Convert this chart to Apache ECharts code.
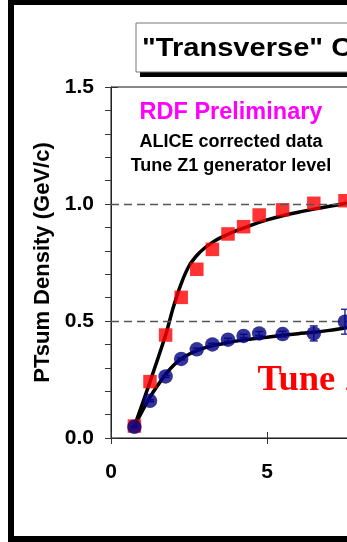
<!DOCTYPE html>
<html>
<head>
<meta charset="utf-8">
<script src="https://cdn.jsdelivr.net/npm/echarts@6/dist/echarts.min.js"></script>
<style>
html,body{margin:0;padding:0;background:#fff;}
#chart{width:347px;height:542px;}
</style>
</head>
<body>
<div id="chart"></div>
<script>
// ---- data ----
const binX = [0.75, 1.25, 1.75, 2.25, 2.75, 3.25, 3.75, 4.25, 4.75, 5.5, 6.5, 7.5];
const redData = [0.051, 0.241, 0.44, 0.601, 0.721, 0.806, 0.872, 0.903, 0.953, 0.975, 1.003, 1.014];
const blueData = [0.048, 0.159, 0.263, 0.338, 0.379, 0.400, 0.420, 0.436, 0.447, 0.444, 0.447, 0.497];
const blueErr = [0.004, 0.004, 0.004, 0.004, 0.005, 0.005, 0.006, 0.007, 0.008, 0.012, 0.032, 0.053];
const curveX = [0.75, 1.25, 1.75, 2.0, 2.25, 2.5, 2.75, 3.0, 3.25, 3.5, 4.0, 4.5, 5.0, 5.5, 6.0, 6.5, 7.0, 7.5, 8.0];
const upperCurve = [0.05, 0.24, 0.44, 0.56, 0.66, 0.735, 0.78, 0.812, 0.836, 0.855, 0.885, 0.91, 0.932, 0.95, 0.965, 0.978, 0.99, 1.002, 1.013];
const lowerCurve = [0.05, 0.175, 0.272, 0.31, 0.338, 0.358, 0.373, 0.385, 0.394, 0.401, 0.414, 0.423, 0.431, 0.439, 0.446, 0.452, 0.46, 0.47, 0.478];
const yTickLabels = ['0.0', '0.5', '1.0', '1.5'];
const xTickLabels = ['0', '5', '10', '15'];
const refLines = [0.5, 1.0];

const SANS = 'Liberation Sans, Arial, sans-serif';
const SERIF = 'Liberation Serif, Times New Roman, serif';

const chart = echarts.init(document.getElementById('chart'), null, {renderer: 'canvas'});

const option = {
  backgroundColor: '#fff',
  animation: false,
  grid: {left: 111, top: 87, width: 468, height: 351, show: true, borderColor: '#111', borderWidth: 1,
    containLabel: false, outerBoundsMode: 'none'},
  xAxis: [
    {
      type: 'value', min: 0, max: 15, interval: 5, position: 'bottom',
      axisLine: {show: true, onZero: false, lineStyle: {color: '#222', width: 1}},
      axisTick: {show: true, length: 6, lineStyle: {color: '#333'}},
      axisLabel: {margin: 24, fontFamily: SANS, fontWeight: 'bold', fontSize: 21, color: '#000',
        formatter: v => xTickLabels[Math.round(v / 5)]},
      splitLine: {show: false}
    },
    {
      type: 'value', min: 0, max: 15, interval: 5, position: 'bottom',
      axisLine: {show: false},
      axisTick: {show: true, inside: true, length: 6, lineStyle: {color: '#333'}},
      axisLabel: {show: false}, splitLine: {show: false}
    }
  ],
  yAxis: [
    {
      type: 'value', min: 0, max: 1.5, interval: 0.5, position: 'left',
      axisLine: {show: true, onZero: false, lineStyle: {color: '#222', width: 1}},
      axisTick: {show: true, length: 6, lineStyle: {color: '#333'}},
      minorTick: {show: true, splitNumber: 5, length: 6, lineStyle: {color: '#333'}},
      axisLabel: {margin: 17, fontFamily: SANS, fontWeight: 'bold', fontSize: 21, color: '#000',
        formatter: v => yTickLabels[Math.round(v / 0.5)]},
      splitLine: {show: false},
      name: 'PTsum Density (GeV/c)', nameLocation: 'middle', nameGap: 57, nameRotate: 90,
      nameTextStyle: {fontFamily: SANS, fontWeight: 'bold', fontSize: 22, color: '#000'}
    },
    {
      type: 'value', min: 0, max: 1.5, interval: 0.5, position: 'left',
      axisLine: {show: false},
      axisTick: {show: true, inside: true, length: 7, lineStyle: {color: '#333'}},
      axisLabel: {show: false}, splitLine: {show: false}
    }
  ],
  series: [
    {
      type: 'line', name: 'Tune Z1 upper', xAxisIndex: 0, yAxisIndex: 0,
      data: curveX.map((x, i) => [x, upperCurve[i]]),
      showSymbol: false, symbol: 'none', smooth: 0.3,
      lineStyle: {color: '#000', width: 3.5}, z: 2,
      markLine: {
        silent: true, symbol: 'none', label: {show: false},
        lineStyle: {color: '#555', type: [8, 5], width: 1.3},
        data: refLines.map(v => ({yAxis: v}))
      }
    },
    {
      type: 'line', name: 'Tune Z1 lower', xAxisIndex: 0, yAxisIndex: 0,
      data: curveX.map((x, i) => [x, lowerCurve[i]]),
      showSymbol: false, symbol: 'none', smooth: 0.3,
      lineStyle: {color: '#000', width: 3.5}, z: 2
    },
    {
      type: 'scatter', name: 'red', xAxisIndex: 0, yAxisIndex: 0,
      data: binX.map((x, i) => [x, redData[i]]),
      symbol: 'rect', symbolSize: 13.5, itemStyle: {color: '#ff0000'}, z: 3
    },
    {
      type: 'custom', name: 'blue err', xAxisIndex: 0, yAxisIndex: 0,
      data: binX.map((x, i) => [x, blueData[i] - blueErr[i], blueData[i] + blueErr[i]]),
      encode: {x: 0, y: [1, 2]},
      renderItem: function (params, api) {
        const x = api.value(0);
        const p1 = api.coord([x, api.value(2)]);
        const p2 = api.coord([x, api.value(1)]);
        const w = 4;
        const st = {stroke: '#2a2a9a', lineWidth: 1.5};
        return {type: 'group', children: [
          {type: 'line', shape: {x1: p1[0], y1: p1[1], x2: p2[0], y2: p2[1]}, style: st},
          {type: 'line', shape: {x1: p1[0] - w, y1: p1[1], x2: p1[0] + w, y2: p1[1]}, style: st},
          {type: 'line', shape: {x1: p2[0] - w, y1: p2[1], x2: p2[0] + w, y2: p2[1]}, style: st}
        ]};
      },
      z: 4
    },
    {
      type: 'scatter', name: 'blue', xAxisIndex: 0, yAxisIndex: 0,
      data: binX.map((x, i) => [x, blueData[i]]),
      symbol: 'circle', symbolSize: 14.5, itemStyle: {color: '#000080'}, z: 5
    }
  ],
  graphic: [
    {type: 'rect', z: 100, silent: true, shape: {x: 11, y: 2, width: 420, height: 537},
      style: {fill: 'none', stroke: '#000', lineWidth: 6}},
    {type: 'rect', z: 100, silent: true, shape: {x: 140, y: 27, width: 400, height: 50},
      style: {fill: '#000'}},
    {type: 'rect', z: 101, silent: true, shape: {x: 136, y: 23, width: 400, height: 49},
      style: {fill: '#fff', stroke: '#777', lineWidth: 1}},
    {type: 'text', z: 102, silent: true, x: 142, y: 49, scaleX: 1.14,
      style: {text: '"Transverse" Charged PTsum Density', fontFamily: SANS, fontWeight: 'bold', fontSize: 25.5,
        fill: '#000', align: 'left', verticalAlign: 'middle'}},
    {type: 'text', z: 102, silent: true, x: 231, y: 113,
      style: {text: 'RDF Preliminary', fontFamily: SANS, fontWeight: 'bold', fontSize: 23.5,
        fill: '#ff00ff', align: 'center', verticalAlign: 'middle'}},
    {type: 'text', z: 102, silent: true, x: 231, y: 142,
      style: {text: 'ALICE corrected data', fontFamily: SANS, fontWeight: 'bold', fontSize: 18,
        fill: '#000', align: 'center', verticalAlign: 'middle'}},
    {type: 'text', z: 102, silent: true, x: 231, y: 166,
      style: {text: 'Tune Z1 generator level', fontFamily: SANS, fontWeight: 'bold', fontSize: 18,
        fill: '#000', align: 'center', verticalAlign: 'middle'}},
    {type: 'text', z: 102, silent: true, x: 257.5, y: 381,
      style: {text: 'Tune Z1', fontFamily: SERIF, fontWeight: 'bold', fontSize: 36.5,
        fill: '#ff0000', align: 'left', verticalAlign: 'middle'}}
  ]
};
chart.setOption(option);
</script>
</body>
</html>
